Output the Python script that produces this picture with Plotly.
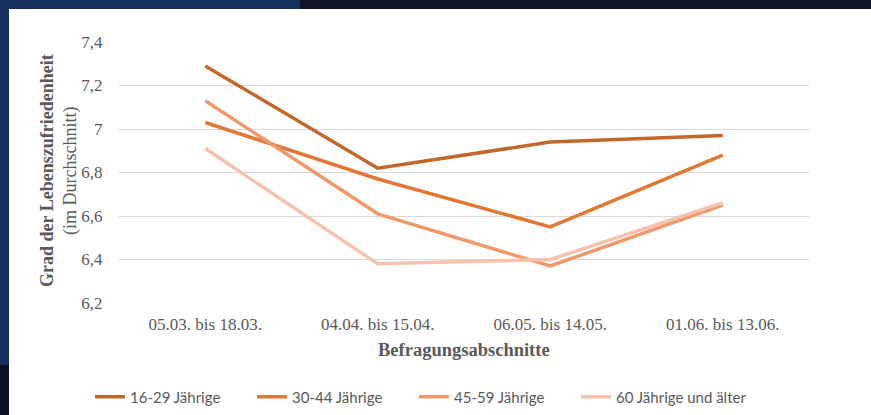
import plotly.graph_objects as go

categories = ["05.03. bis 18.03.", "04.04. bis 15.04.", "06.05. bis 14.05.", "01.06. bis 13.06."]
series_names = ["16-29 Jährige", "30-44 Jährige", "45-59 Jährige", "60 Jährige und älter"]
v_16_29 = [7.29, 6.82, 6.94, 6.97]
v_30_44 = [7.03, 6.77, 6.55, 6.88]
v_45_59 = [7.13, 6.61, 6.37, 6.65]
v_60 = [6.91, 6.38, 6.40, 6.66]
tick_vals = [6.2, 6.4, 6.6, 6.8, 7.0, 7.2, 7.4]
tick_text = ["6,2", "6,4", "6,6", "6,8", "7", "7,2", "7,4"]

colors = ["#C3672B", "#E27833", "#F09A6C", "#F6C2AB"]
values = [v_16_29, v_30_44, v_45_59, v_60]

W, H = 871, 415
L, R, T, B = 119, 62, 42, 112
pw, ph = W - L - R, H - T - B

legend_ids = ["legend", "legend2", "legend3", "legend4"]
legend_x = [90, 252, 414, 576]

fig = go.Figure()
for name, vals, c, lid in zip(series_names, values, colors, legend_ids):
    fig.add_trace(go.Scatter(x=categories, y=vals, mode="lines", name=name, legend=lid,
                             line=dict(color=c, width=3.5)))

serif = "Liberation Serif, Times New Roman, serif"
legend_font = dict(family="Lato, Open Sans, sans-serif", size=15, color="#595959")
legends = {}
for lid, lx in zip(legend_ids, legend_x):
    legends[lid] = dict(orientation="h", xref="container", yref="container",
                        x=lx / W, xanchor="left", y=(H - 397) / H, yanchor="middle",
                        font=legend_font, bgcolor="rgba(0,0,0,0)")

fig.update_layout(
    width=W, height=H,
    margin=dict(l=L, r=R, t=T, b=B, pad=0, autoexpand=False),
    paper_bgcolor="#17325f",
    plot_bgcolor="white",
    showlegend=True,
    xaxis=dict(type="category", range=[-0.5, 3.5], showgrid=False, showline=False, zeroline=False,
               ticks="outside", ticklen=6, tickcolor="rgba(0,0,0,0)",
               tickfont=dict(family=serif, size=17, color="#595959")),
    yaxis=dict(range=[6.2, 7.4], tickvals=tick_vals, ticktext=tick_text, showgrid=True,
               gridcolor="#D9D9D9", gridwidth=1.3, showline=False, zeroline=False,
               ticks="outside", ticklen=12, tickcolor="rgba(0,0,0,0)",
               tickfont=dict(family=serif, size=17, color="#595959")),
    shapes=[
        dict(type="rect", xref="paper", yref="paper", layer="below",
             x0=(9 - L) / pw, x1=(W - L) / pw + 0.02, y0=-(H - T - ph) / ph - 0.02, y1=1 + (T - 9) / ph,
             fillcolor="white", line=dict(width=0)),
        dict(type="rect", xref="paper", yref="paper", layer="below",
             x0=(0 - L) / pw - 0.01, x1=(9 - L) / pw, y0=-(H - T - ph) / ph - 0.02, y1=-(365 - T - ph) / ph,
             fillcolor="#0c1226", line=dict(width=0)),
        dict(type="rect", xref="paper", yref="paper", layer="below",
             x0=(300 - L) / pw, x1=(W - L) / pw + 0.02, y0=1 + (T - 9) / ph, y1=1 + T / ph + 0.02,
             fillcolor="#101428", line=dict(width=0)),
    ],
    annotations=[
        dict(text="<b>Grad der Lebenszufriedenheit</b><br>(im Durchschnitt)", textangle=-90,
             xref="paper", yref="paper", x=(59 - L) / pw, y=(H - B - 171) / ph, xanchor="center", yanchor="middle",
             showarrow=False, font=dict(family=serif, size=18, color="#595959")),
        dict(text="<b>Befragungsabschnitte</b>", xref="paper", yref="paper",
             x=0.5, y=-(350 - T - ph) / ph, xanchor="center", yanchor="middle",
             showarrow=False, font=dict(family=serif, size=18.5, color="#595959")),
    ],
    **legends,
)

fig.write_html("out.html")
